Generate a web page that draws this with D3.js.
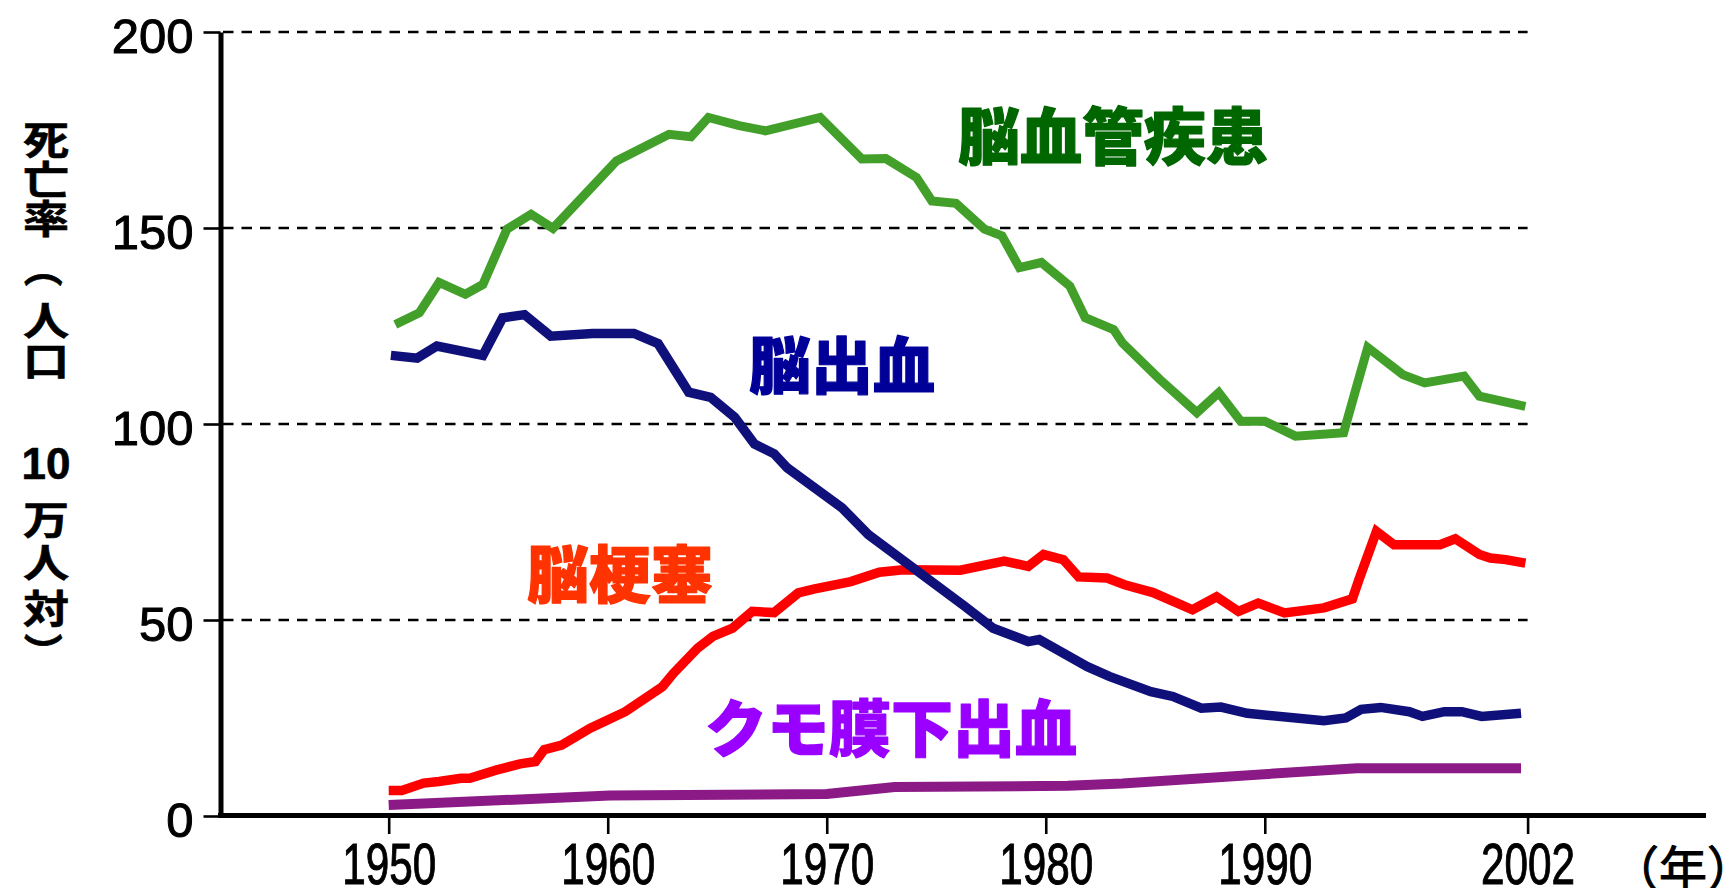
<!DOCTYPE html>
<html>
<head>
<meta charset="utf-8">
<script src="https://cdn.jsdelivr.net/npm/d3@7"></script>
<style>
  body { margin: 0; background: #fff; }
  svg { display: block; }
</style>
</head>
<body>
<div id="chart"></div>
<script>
// ---- data ----
var yTicks = [0, 50, 100, 150, 200];
var xTicks = [1950, 1960, 1970, 1980, 1990, 2002];

// 脳血管疾患
var totalYears = [1950.3, 1951.4, 1952.3, 1953.5, 1954.3, 1955.4, 1956.5, 1957.5, 1960.4, 1962.8, 1963.8, 1964.6, 1966.0, 1967.2, 1969.7, 1971.6, 1972.7, 1974.1, 1974.8, 1975.9, 1977.2, 1978.0, 1978.8, 1979.8, 1981.1, 1981.8, 1983.1, 1983.5, 1985.2, 1986.9, 1987.9, 1988.9, 1990.0, 1991.4, 1993.6, 1994.2, 1994.7, 1996.3, 1997.3, 1999.1, 1999.8, 2001.9];
var totalRates = [125.4, 128.4, 136.1, 133.1, 135.6, 149.7, 153.5, 149.9, 167.1, 173.9, 173.3, 178.2, 176.1, 174.8, 178.2, 167.6, 167.7, 162.9, 156.9, 156.3, 149.7, 148.0, 139.9, 141.2, 135.2, 127.1, 124.1, 120.7, 111.4, 102.9, 108.0, 100.7, 100.7, 96.9, 97.8, 109.7, 119.5, 112.6, 110.5, 112.2, 107.1, 104.5];

// 脳出血
var hemYears = [1950.1, 1951.3, 1952.2, 1954.3, 1955.2, 1956.2, 1957.4, 1959.3, 1961.2, 1962.3, 1963.7, 1964.7, 1965.8, 1966.7, 1967.6, 1968.2, 1970.7, 1971.9, 1976.3, 1977.6, 1979.2, 1979.7, 1981.9, 1982.9, 1984.8, 1985.8, 1987.1, 1988.0, 1989.2, 1992.7, 1993.7, 1994.4, 1995.3, 1996.6, 1997.2, 1998.2, 1999.0, 1999.9, 2001.7];
var hemRates = [117.5, 116.8, 119.9, 117.5, 127.1, 127.9, 122.4, 123.1, 123.1, 120.5, 108.1, 106.8, 101.7, 94.9, 92.4, 88.8, 78.6, 71.8, 53.5, 47.9, 44.5, 45.0, 38.1, 35.6, 31.7, 30.5, 27.5, 27.8, 26.2, 24.3, 25.0, 27.2, 27.7, 26.6, 25.4, 26.6, 26.6, 25.4, 26.2];

// 脳梗塞
var infYears = [1950.0, 1950.6, 1951.6, 1952.3, 1953.3, 1953.7, 1954.9, 1956.0, 1956.7, 1957.1, 1957.9, 1959.2, 1960.8, 1962.5, 1963.0, 1964.1, 1964.8, 1965.7, 1966.6, 1967.6, 1968.7, 1969.4, 1971.1, 1972.4, 1973.5, 1976.1, 1978.1, 1979.2, 1979.9, 1980.8, 1981.5, 1982.8, 1983.6, 1984.9, 1986.7, 1987.8, 1988.8, 1989.7, 1990.9, 1992.7, 1994.0, 1994.3, 1995.1, 1995.9, 1998.0, 1998.7, 1999.8, 2000.3, 2001.0, 2001.9];
var infRates = [6.5, 6.5, 8.4, 8.8, 9.6, 9.6, 11.7, 13.3, 13.9, 16.9, 18.1, 22.4, 26.6, 33.0, 36.4, 42.8, 45.8, 47.9, 52.2, 51.9, 56.9, 57.9, 59.8, 62.2, 62.8, 62.7, 65.0, 63.7, 66.7, 65.4, 61.0, 60.7, 59.0, 57.0, 52.6, 55.9, 52.2, 54.3, 51.8, 53.1, 55.4, 60.3, 72.6, 69.2, 69.2, 70.7, 66.7, 65.8, 65.4, 64.5];

// クモ膜下出血
var subYears = [1950.0, 1960.1, 1970.0, 1973.1, 1981.0, 1983.5, 1994.2, 2001.7];
var subRates = [2.8, 5.2, 5.6, 7.4, 7.7, 8.3, 12.2, 12.2];

var titleChars = ["死", "亡", "率", "（", "人", "口", "10", "万", "人", "対", "）"];

// ---- layout ----
var W = 1733, H = 888;

var svg = d3.select("#chart")
    .append("svg")
    .attr("width", W)
    .attr("height", H)
    .style("background", "#fff");

var x = d3.scaleLinear().domain([1950, 2002]).range([388.7, 1527.6]);
var y = d3.scaleLinear().domain([0, 200]).range([816, 32]);

// dashed grid lines
svg.append("g")
    .selectAll("line")
    .data(yTicks.filter(function (d) { return d > 0; }))
    .enter()
    .append("line")
    .attr("x1", 223)
    .attr("x2", x(2002))
    .attr("y1", function (d) { return y(d); })
    .attr("y2", function (d) { return y(d); })
    .attr("stroke", "#000")
    .attr("stroke-width", 2.6)
    .attr("stroke-dasharray", "10.5,8");

// Y axis
var yAxis = svg.append("g")
    .attr("transform", "translate(220.5,0)")
    .call(d3.axisLeft(y).tickValues(yTicks).tickSize(17).tickSizeOuter(0).tickPadding(10));
yAxis.select(".domain").attr("stroke", "#000").attr("stroke-width", 5);
yAxis.selectAll(".tick line").attr("stroke", "#000").attr("stroke-width", 2.6);
yAxis.selectAll(".tick text")
    .attr("font-family", "'Liberation Sans Narrow', 'Liberation Sans', sans-serif")
    .attr("font-size", 49)
    .attr("fill", "#000")
    .attr("stroke", "#000")
    .attr("stroke-width", 1)
    .attr("dy", "0.42em");

// X axis
var xAxis = svg.append("g")
    .attr("transform", "translate(0,816)")
    .call(d3.axisBottom(x).tickValues(xTicks).tickFormat(d3.format("d")).tickSize(18).tickSizeOuter(0).tickPadding(10));
xAxis.select(".domain").remove();
xAxis.selectAll(".tick line").attr("stroke", "#000").attr("stroke-width", 2.6);
xAxis.selectAll(".tick text")
    .attr("font-family", "'Liberation Sans Narrow', 'Liberation Sans', sans-serif")
    .attr("font-size", 57)
    .attr("fill", "#000")
    .attr("stroke", "#000")
    .attr("stroke-width", 1)
    .attr("textLength", 94)
    .attr("lengthAdjust", "spacingAndGlyphs");

svg.append("line")
    .attr("x1", 218).attr("x2", 1706)
    .attr("y1", 815.5).attr("y2", 815.5)
    .attr("stroke", "#000")
    .attr("stroke-width", 5);

// (年)
svg.append("text")
    .attr("x", 1683)
    .attr("y", 865)
    .attr("text-anchor", "middle")
    .attr("dominant-baseline", "central")
    .attr("font-family", "'Noto Sans CJK JP', sans-serif")
    .attr("font-size", 48)
    .attr("fill", "#000")
    .attr("stroke", "#000")
    .attr("stroke-width", 1)
    .text("（年）");

// vertical axis title, one character per row; the brackets are turned for vertical writing
var titleY = [137, 177, 216, 268, 318, 358, 463, 517, 560, 606, 652];
svg.append("g")
    .selectAll("text")
    .data(titleChars)
    .enter()
    .append("text")
    .attr("transform", function (d, i) {
        var t = "translate(46," + titleY[i] + ")";
        if (d === "（" || d === "）") return t + " rotate(90)";
        if (d === "10") return t;
        return t + " scale(1.18,1)";
    })
    .attr("text-anchor", "middle")
    .attr("dominant-baseline", "central")
    .attr("font-family", function (d) { return d === "10" ? "'Liberation Sans', Arial, sans-serif" : "'Noto Sans CJK JP', sans-serif"; })
    .attr("font-weight", "bold")
    .attr("font-size", function (d) { return d === "10" ? 44 : 39; })
    .attr("fill", "#000")
    .attr("stroke", "#000")
    .attr("stroke-width", 0.6)
    .text(function (d) { return d; });

// lines
var line = d3.line()
    .x(function (d) { return x(d[0]); })
    .y(function (d) { return y(d[1]); });

var series = [
    { years: subYears, rates: subRates, color: "#8b1a87", w: 10 },
    { years: infYears, rates: infRates, color: "#ff0000", w: 9.5 },
    { years: hemYears, rates: hemRates, color: "#10107a", w: 9.5 },
    { years: totalYears, rates: totalRates, color: "#42a02a", w: 9 }
];

svg.append("g")
    .selectAll("path")
    .data(series)
    .enter()
    .append("path")
    .attr("d", function (s) { return line(d3.zip(s.years, s.rates)); })
    .attr("fill", "none")
    .attr("stroke", function (s) { return s.color; })
    .attr("stroke-width", function (s) { return s.w; })
    .attr("stroke-linejoin", "miter")
    .attr("stroke-linecap", "butt");

// series labels
var labels = [
    { text: "脳血管疾患", x: 1113, y: 133, color: "#006600" },
    { text: "脳出血", x: 842, y: 362, color: "#000099" },
    { text: "脳梗塞", x: 620, y: 571, color: "#ff3300" },
    { text: "クモ膜下出血", x: 891, y: 725, color: "#9900ff" }
];

svg.append("g")
    .selectAll("text")
    .data(labels)
    .enter()
    .append("text")
    .attr("x", function (d) { return d.x; })
    .attr("y", function (d) { return d.y; })
    .attr("text-anchor", "middle")
    .attr("dominant-baseline", "central")
    .attr("font-family", "'Noto Sans CJK JP', sans-serif")
    .attr("font-weight", 900)
    .attr("font-size", 62)
    .attr("fill", function (d) { return d.color; })
    .attr("stroke", function (d) { return d.color; })
    .attr("stroke-width", 1.2)
    .attr("stroke-linejoin", "round")
    .text(function (d) { return d.text; });
</script>
</body>
</html>
